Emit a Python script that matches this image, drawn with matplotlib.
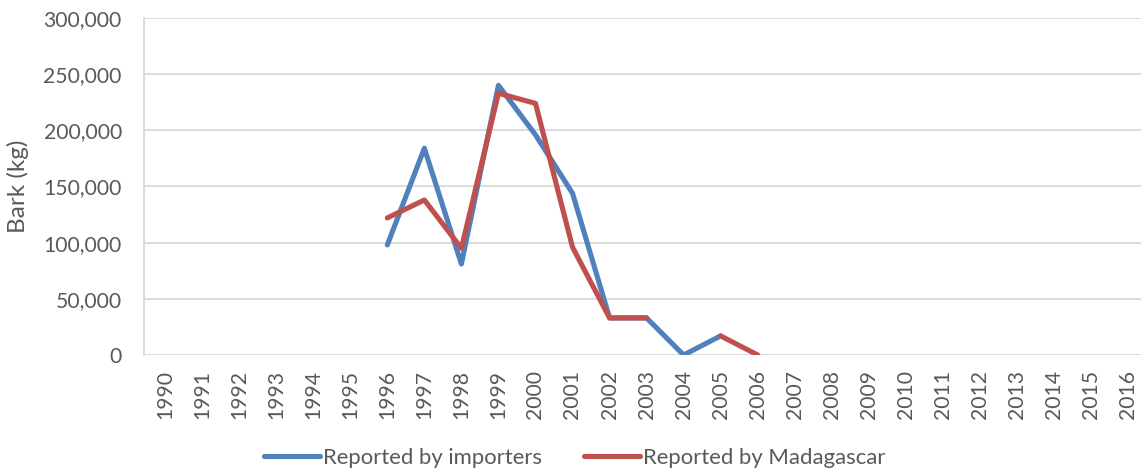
import numpy as np
import matplotlib
matplotlib.use('Agg')
import matplotlib.pyplot as plt
from matplotlib.ticker import FuncFormatter

years = list(range(1990, 2017))

# values in kg, None = no report
importers = [None, None, None, None, None, None,
             98000, 184000, 81000, 240000, 196000, 144000,
             33000, 33000, 0, 17000,
             None, None, None, None, None, None, None, None, None, None, None]
madagascar = [None, None, None, None, None, None,
              122000, 138000, 95000, 233000, 224000, 96000,
              33000, 33000, None, 17000, 0,
              None, None, None, None, None, None, None, None, None, None]

plt.rcParams['font.family'] = ['Lato', 'DejaVu Sans']
grey = '#595959'

def to_arr(v):
    return np.array([np.nan if a is None else a for a in v], dtype=float)

x = np.arange(len(years))

fig = plt.figure(figsize=(11.41, 4.71), dpi=100)
ax = fig.add_axes([0.1262, 0.2463, 0.8738, 0.7155])

l1, = ax.plot(x, to_arr(importers), color='#4F81BD', lw=3.7,
              solid_capstyle='round', solid_joinstyle='round')
l2, = ax.plot(x, to_arr(madagascar), color='#C0504D', lw=3.7,
              solid_capstyle='round', solid_joinstyle='round')

ax.set_ylim(0, 300000)
ax.set_yticks(np.arange(0, 300001, 50000))
ax.yaxis.set_major_formatter(FuncFormatter(lambda v, p: f'{int(v):,}'))
ax.set_xlim(-0.57, 26.35)
ax.set_xticks(x)
ax.set_xticklabels([str(y) for y in years], rotation=90)

ax.grid(axis='y', color='#D9D9D9', lw=1.3)
ax.set_axisbelow(True)
for s in ['top', 'right', 'bottom']:
    ax.spines[s].set_visible(False)
ax.spines['left'].set_color('#D9D9D9')
ax.spines['left'].set_linewidth(1.3)
ax.tick_params(length=0, colors=grey)
ax.tick_params(axis='y', pad=16)
ax.tick_params(axis='x', pad=11)
ylab = ax.set_ylabel('Bark (kg)', color=grey)

# size the text so it takes the same room as in the source chart (pixels)
fig.canvas.draw()
r = fig.canvas.get_renderer()

def size_for(t, target, vertical=False):
    bb = t.get_window_extent(r)
    w = bb.height if vertical else bb.width
    return t.get_fontsize() * target / w

ys = size_for(ax.get_yticklabels()[-1], 78)
ls = size_for(ylab, 93, vertical=True)
ax.tick_params(axis='both', labelsize=ys)
ylab.set_fontsize(ls)

tmp = fig.text(0, 0, 'Reported by importers')
gs = size_for(tmp, 221)
tmp.remove()
px = gs * 100 / 72

ax.yaxis.set_label_coords(-0.115, 0.5)

fig.legend([l1, l2], ['Reported by importers', 'Reported by Madagascar'],
           loc='center', bbox_to_anchor=(575 / 1141, 1 - 458 / 471), ncol=2,
           frameon=False, fontsize=gs, handlelength=56 / px,
           handletextpad=3 / px, columnspacing=42 / px, labelcolor=grey,
           borderpad=0)

fig.savefig('out.png', dpi=100)
